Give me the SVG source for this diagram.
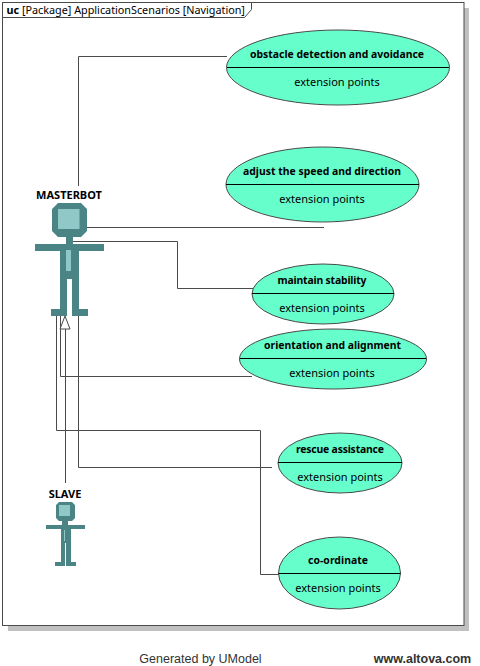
<svg xmlns="http://www.w3.org/2000/svg" width="480" height="666" viewBox="0 0 480 666">
<style>
text{font-family:"Noto Sans","Open Sans","DejaVu Sans",sans-serif;font-size:11px;fill:#000;text-anchor:middle}
.b{font-weight:700;font-size:10.4px}
.n{font-weight:700}
.f{font-family:"Liberation Sans",Arial,sans-serif;font-size:12.500px;fill:#333}
.c{fill:none;stroke:#4a4a4a;stroke-width:1}
.u{fill:#66ffcc;stroke:#4a4a4a;stroke-width:1}
.d{stroke:#000;stroke-width:1}
.a{fill:#4a8484}
.l{fill:#90c8c8}
</style>
<rect x="8" y="8" width="461" height="623" fill="#c0c0c0"/>
<rect x="2.500" y="2.500" width="461.500" height="623" fill="#fff" stroke="#4a4a4a"/>
<path class="c" d="M2.500 17.500H244.500L251.500 9.500V2.500"/>
<text x="6.500" y="14" style="text-anchor:start;font-size:10.800px"><tspan class="n">uc</tspan> [Package] ApplicationScenarios [Navigation]</text>
<g id="connectors">
<path class="c" d="M78.500 186V56.500H227"/>
<path class="c" d="M87 227.500H324"/>
<path class="c" d="M73 241.500H177.500V288.500H253"/>
<path class="c" d="M60.500 316V376.500H252"/>
<path class="c" d="M56.500 316V430.500H260.500V574.500H279"/>
<path class="c" d="M78.500 316V467.500H272"/>
<path class="c" d="M65.500 329V483"/>
<path d="M65 316L60 329H70Z" fill="#fff" stroke="#4a4a4a"/>
</g>
<g id="masterbot">
<text class="n" x="69" y="199">MASTERBOT</text>
<path class="a" d="M58 203H81L87 209V231L81 237H73V244H104V251H79V309H88V316H72V279H67V316H51V309H60V251H35V244H66V237H58L52 231V209Z"/>
<rect class="l" x="58" y="209" width="21.500" height="20"/>
<rect class="l" x="66" y="250" width="5" height="21"/>
</g>
<g id="slave">
<text class="n" x="65" y="498">SLAVE</text>
<path class="a" d="M59 502H72L75 505V518L72 521H68V525H85V529H71V562H76V566H66V543H65V566H55V562H61V529H46V525H62V521H59L56 518V505Z"/>
<rect class="l" x="59" y="505" width="11" height="11"/>
<rect class="l" x="64" y="530" width="1" height="11"/>
</g>
<g id="uc1"><ellipse class="u" cx="338" cy="67.500" rx="111.500" ry="37.500"/><path class="d" d="M227 67.500H449"/><text class="b" x="337" y="58" textLength="174">obstacle detection and avoidance</text><text x="337" y="86">extension points</text></g>
<g id="uc2"><ellipse class="u" cx="322.500" cy="184.500" rx="96.500" ry="37.500"/><path class="d" d="M226 184.500H419"/><text class="b" x="322" y="175" textLength="158">adjust the speed and direction</text><text x="322" y="203">extension points</text></g>
<g id="uc3"><ellipse class="u" cx="323" cy="294" rx="71" ry="30"/><path class="d" d="M252 293.500H394"/><text class="b" x="322" y="284" textLength="89">maintain stability</text><text x="322" y="312">extension points</text></g>
<g id="uc4"><ellipse class="u" cx="333" cy="359" rx="93.500" ry="30"/><path class="d" d="M240 358.500H426"/><text class="b" x="332.500" y="349" textLength="137">orientation and alignment</text><text x="332" y="377">extension points</text></g>
<g id="uc5"><ellipse class="u" cx="340" cy="463" rx="62" ry="30"/><path class="d" d="M278 462.500H402"/><text class="b" x="340" y="453" textLength="88">rescue assistance</text><text x="340" y="481">extension points</text></g>
<g id="uc6"><ellipse class="u" cx="339.500" cy="573" rx="61" ry="36"/><path class="d" d="M278.500 573.500H400.500"/><text class="b" x="338" y="564" textLength="60">co-ordinate</text><text x="338" y="592">extension points</text></g>
<text class="f" x="200.500" y="663">Generated by UModel</text>
<text class="f" x="422.500" y="663" style="font-weight:700">www.altova.com</text>
</svg>
